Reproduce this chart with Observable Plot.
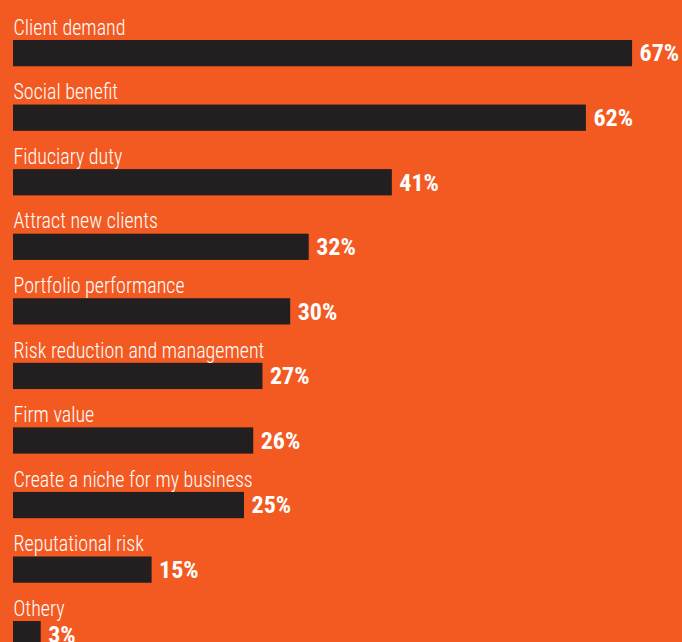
<!DOCTYPE html>
<html>
<head>
<meta charset="utf-8">
<script src="https://cdn.jsdelivr.net/npm/d3@7"></script>
<script src="https://cdn.jsdelivr.net/npm/@observablehq/plot@0.6"></script>
<style>
  html, body { margin: 0; padding: 0; background: #F35A22; overflow: hidden; }
  #chart svg { display: block; }
</style>
</head>
<body>
<div id="chart"></div>
<script>
const categories = [
  "Client demand",
  "Social benefit",
  "Fiduciary duty",
  "Attract new clients",
  "Portfolio performance",
  "Risk reduction and management",
  "Firm value",
  "Create a niche for my business",
  "Reputational risk",
  "Othery"
];
const values = [67, 62, 41, 32, 30, 27, 26, 25, 15, 3];

const data = categories.map((c, i) => ({category: c, value: values[i]}));

const font = "'Liberation Sans Narrow', 'Arial Narrow', 'Roboto Condensed', sans-serif";
const rowH = 64.56;
const top0 = 8;

const chart = Plot.plot({
  width: 682,
  height: 642,
  margin: 0,
  style: {background: "#F35A22", fontFamily: font},
  x: {domain: [0, 100], range: [13, 13 + 9.24 * 100], axis: null},
  y: {domain: categories, range: [top0, top0 + rowH * categories.length], padding: 0, round: false, axis: null},
  marks: [
    Plot.barX(data, {
      x: "value", y: "category", fill: "#231F20",
      insetTop: 32, insetBottom: 6.3
    }),
    Plot.text(data, {
      x: 0, y: "category", text: "category",
      textAnchor: "start", lineAnchor: "bottom", dy: -6,
      fill: "#FFFFFF", fontSize: 22, fontWeight: 300, fontFamily: font,
      className: "cat-label"
    }),
    Plot.text(data, {
      x: "value", y: "category", text: d => d.value + "%",
      textAnchor: "start", lineAnchor: "middle", dx: 7, dy: 13,
      fill: "#FFFFFF", fontSize: 24, fontWeight: "bold", fontFamily: font
    })
  ]
});
document.getElementById("chart").appendChild(chart);
// condense category labels to match the narrow face of the original
d3.select(chart).selectAll(".cat-label text").each(function() {
  const w = this.getComputedTextLength();
  d3.select(this).attr("textLength", w * 0.91).attr("lengthAdjust", "spacingAndGlyphs");
});
</script>
</body>
</html>
